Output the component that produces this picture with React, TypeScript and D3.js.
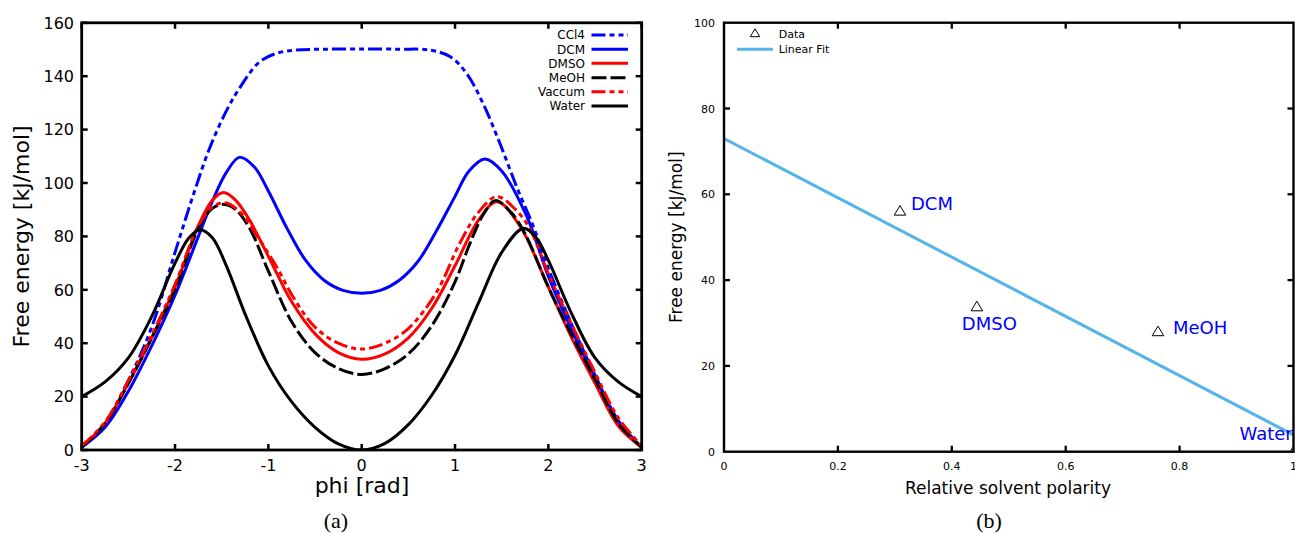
import React from "react";
import * as d3 from "d3";

type P = [number, number];

// ---------- Panel (a) data ----------
const seriesNames = ["CCl4", "DCM", "DMSO", "MeOH", "Vaccum", "Water"];

const ccl4: P[] = [[-3,1],[-2.75,10],[-2.5,26],[-2.25,46],[-2,74],[-1.8,96],[-1.63,113],[-1.45,127],[-1.3,136],[-1.1,145.2],[-0.91,148.6],[-0.7,149.8],[-0.4,150.1],[0,150.2],[0.4,150.1],[0.73,149.8],[0.95,147.3],[1.125,141],[1.3,129.8],[1.48,114.9],[1.66,98.6],[1.84,83.6],[2,68],[2.25,47],[2.5,28],[2.75,11],[3,1]];
const dcm: P[] = [[-3,1],[-2.75,8.5],[-2.5,22],[-2.25,39],[-2,58],[-1.75,80],[-1.59,94],[-1.45,104],[-1.31,109.6],[-1.15,106],[-1,97],[-0.8,83],[-0.6,71],[-0.4,63.5],[-0.2,59.8],[0,58.7],[0.2,59.8],[0.4,63.5],[0.6,70.5],[0.8,82],[1.0,95],[1.15,104.5],[1.32,109],[1.5,104.5],[1.77,87.4],[2,65],[2.25,45],[2.5,27],[2.75,10],[3,1]];
const dmso: P[] = [[-3,1.5],[-2.75,10],[-2.5,25],[-2.25,42],[-2,61],[-1.75,84],[-1.6,93.5],[-1.48,96.4],[-1.35,93.5],[-1.2,86],[-1.05,76],[-0.9,65.5],[-0.75,55.5],[-0.5,43.5],[-0.25,36.5],[0,34],[0.25,36],[0.5,42],[0.75,53],[1,69],[1.25,86],[1.45,93],[1.7,83.6],[2,61],[2.25,42],[2.5,25],[2.75,9],[3,1]];
const meoh: P[] = [[-3,1],[-2.75,10],[-2.5,25],[-2.25,42],[-2,60],[-1.75,83],[-1.6,90.5],[-1.48,92],[-1.35,90],[-1.2,83],[-1,67],[-0.75,48],[-0.5,36.5],[-0.25,30.5],[0,28.3],[0.25,30.5],[0.5,36],[0.75,46.5],[1,63],[1.16,77.4],[1.3,88],[1.43,93.4],[1.6,89],[1.75,81],[2,61],[2.25,43],[2.5,26.5],[2.75,10],[3,1]];
const vaccum: P[] = [[-3,1.5],[-2.75,10.5],[-2.5,26],[-2.25,43],[-2,62],[-1.75,84],[-1.6,91],[-1.46,92.6],[-1.3,89],[-1.1,79],[-0.91,68.5],[-0.73,57],[-0.5,46],[-0.25,40],[0,37.8],[0.25,40],[0.5,45.5],[0.8,59],[1.05,77.4],[1.25,89],[1.45,94.9],[1.65,90],[1.8,83],[2,66],[2.25,47],[2.5,29],[2.75,12],[3,1.5]];
const water: P[] = [[-3,20],[-2.75,25.5],[-2.5,34.5],[-2.25,50],[-2,70],[-1.85,79.5],[-1.73,82.5],[-1.6,79.5],[-1.45,69],[-1.25,51],[-1,31.5],[-0.75,18],[-0.5,8.5],[-0.25,2.3],[0,0],[0.25,2.5],[0.5,9.5],[0.75,20.5],[1,35.5],[1.25,55],[1.5,74],[1.73,83],[1.87,79.5],[2,71],[2.25,51],[2.5,34.5],[2.75,25.5],[3,20]];

const seriesData = [ccl4, dcm, dmso, meoh, vaccum, water];
const seriesColors = ["#0000ff", "#0000ff", "#ff0000", "#000000", "#ff0000", "#000000"];
const seriesDash = ["14,4,5,4,5,4", "", "", "15,4", "14,4,5,4,5,4", ""];

const phiTicks = [-3, -2, -1, 0, 1, 2, 3];
const energyTicksA = [0, 20, 40, 60, 80, 100, 120, 140, 160];

// ---------- Panel (b) data ----------
const solvents = ["DCM", "DMSO", "MeOH", "Water"];
const polarity = [0.309, 0.444, 0.762, 1.0];
const barrier = [56.1, 33.8, 28.0, 0.0];
const fitX = [0, 1];
const fitY = [73.0, 3.9];
const polarityTicks = [0, 0.2, 0.4, 0.6, 0.8, 1];
const polarityTickLabels = ["0", "0.2", "0.4", "0.6", "0.8", "1"];
const energyTicksB = [0, 20, 40, 60, 80, 100];

const FONT = "DejaVu Sans, Verdana, sans-serif";

export default function App() {
  const ax = d3.scaleLinear().domain([-3, 3]).range([81.7, 641.7]);
  const ay = d3.scaleLinear().domain([0, 160]).range([450, 22.8]);
  const bx = d3.scaleLinear().domain([0, 1]).range([724, 1293.5]);
  const by = d3.scaleLinear().domain([0, 100]).range([451.7, 22.7]);

  const line = d3
    .line<P>()
    .x((d) => ax(d[0]))
    .y((d) => ay(d[1]))
    .curve(d3.curveCatmullRom.alpha(0.5));

  const tickLen = 6;
  const legendRows = [35, 49.3, 63.3, 77.7, 91.7, 106];

  const tri = (cx: number, cy: number, s = 5.5) =>
    `M${cx},${cy - s}L${cx + s * 1.05},${cy + s * 0.75}L${cx - s * 1.05},${cy + s * 0.75}Z`;

  const labelOffsets: [number, number][] = [[11, -1], [-15, 23], [15, 2], [-54, -12]];

  const fitLine = d3
    .line<number>()
    .x((_, i) => bx(fitX[i]))
    .y((_, i) => by(fitY[i]));

  return (
    <svg
      width={1295}
      height={533}
      style={{ position: "absolute", left: 0, top: 0, background: "#fff" }}
      fontFamily={FONT}
    >
      <defs>
        <clipPath id="clipA">
          <rect x={ax(-3)} y={ay(160)} width={ax(3) - ax(-3)} height={ay(0) - ay(160)} />
        </clipPath>
        <clipPath id="clipB">
          <rect x={bx(0)} y={by(100)} width={bx(1) - bx(0)} height={by(0) - by(100)} />
        </clipPath>
      </defs>
      <rect x={0} y={0} width={1295} height={533} fill="#fff" />

      {/* ---------------- Panel (a) ---------------- */}
      <g clipPath="url(#clipA)">
        {seriesData.map((s, i) => (
          <path
            key={seriesNames[i]}
            d={line(s) || ""}
            fill="none"
            stroke={seriesColors[i]}
            strokeWidth={3}
            strokeDasharray={seriesDash[i] || undefined}
          />
        ))}
      </g>
      {phiTicks.map((t) => (
        <g key={"xt" + t}>
          <line x1={ax(t)} x2={ax(t)} y1={ay(0)} y2={ay(0) - tickLen} stroke="#000" strokeWidth={2.5} />
          <line x1={ax(t)} x2={ax(t)} y1={ay(160)} y2={ay(160) + tickLen} stroke="#000" strokeWidth={2.5} />
          <text x={ax(t)} y={471} fontSize={16} textAnchor="middle" fill="#000">
            {t}
          </text>
        </g>
      ))}
      {energyTicksA.map((t) => (
        <g key={"yt" + t}>
          <line x1={ax(-3)} x2={ax(-3) + tickLen} y1={ay(t)} y2={ay(t)} stroke="#000" strokeWidth={2.5} />
          <line x1={ax(3)} x2={ax(3) - tickLen} y1={ay(t)} y2={ay(t)} stroke="#000" strokeWidth={2.5} />
          <text x={74} y={ay(t) + 5.8} fontSize={16} textAnchor="end" fill="#000">
            {t}
          </text>
        </g>
      ))}
      <rect
        x={ax(-3)}
        y={ay(160)}
        width={ax(3) - ax(-3)}
        height={ay(0) - ay(160)}
        fill="none"
        stroke="#000"
        strokeWidth={2.8}
      />
      {seriesNames.map((n, i) => (
        <g key={"lg" + n}>
          <text x={585} y={legendRows[i] + 4.3} fontSize={12} textAnchor="end" fill="#000">
            {n}
          </text>
          <line
            x1={591.5}
            x2={628}
            y1={legendRows[i]}
            y2={legendRows[i]}
            stroke={seriesColors[i]}
            strokeWidth={3}
            strokeDasharray={seriesDash[i] || undefined}
          />
        </g>
      ))}
      <text x={362} y={493} fontSize={22} textAnchor="middle" fill="#000">
        phi [rad]
      </text>
      <text
        transform={`translate(29,${(ay(0) + ay(160)) / 2}) rotate(-90)`}
        fontSize={22}
        textAnchor="middle"
        fill="#000"
      >
        Free energy [kJ/mol]
      </text>
      <text x={336} y={528} fontSize={22} textAnchor="middle" fontFamily="Liberation Serif, Times New Roman, serif" fill="#000">
        (a)
      </text>

      {/* ---------------- Panel (b) ---------------- */}
      <g clipPath="url(#clipB)">
        <path d={fitLine(fitX) || ""} fill="none" stroke="#56b4e9" strokeWidth={3} />
        {solvents.map((s, i) => (
          <g key={"pt" + s}>
            <path d={tri(bx(polarity[i]), by(barrier[i]))} fill="none" stroke="#000" strokeWidth={1} />
            <text
              x={bx(polarity[i]) + labelOffsets[i][0]}
              y={by(barrier[i]) + labelOffsets[i][1]}
              fontSize={18}
              fill="#0000ff"
            >
              {s}
            </text>
          </g>
        ))}
      </g>
      {polarityTicks.map((t, i) => (
        <g key={"bxt" + t}>
          {i > 0 && i < polarityTicks.length - 1 && (
            <>
              <line x1={bx(t)} x2={bx(t)} y1={by(0)} y2={by(0) - tickLen} stroke="#000" strokeWidth={2.3} />
              <line x1={bx(t)} x2={bx(t)} y1={by(100)} y2={by(100) + tickLen} stroke="#000" strokeWidth={2.3} />
            </>
          )}
          <text x={bx(t)} y={470} fontSize={11} textAnchor="middle" fill="#000">
            {polarityTickLabels[i]}
          </text>
        </g>
      ))}
      {energyTicksB.map((t, i) => (
        <g key={"byt" + t}>
          {i > 0 && i < energyTicksB.length - 1 && (
            <>
              <line x1={bx(0)} x2={bx(0) + tickLen} y1={by(t)} y2={by(t)} stroke="#000" strokeWidth={2.3} />
              <line x1={bx(1)} x2={bx(1) - tickLen} y1={by(t)} y2={by(t)} stroke="#000" strokeWidth={2.3} />
            </>
          )}
          <text x={715} y={by(t) + 4} fontSize={11} textAnchor="end" fill="#000">
            {t}
          </text>
        </g>
      ))}
      <rect
        x={bx(0)}
        y={by(100)}
        width={bx(1) - bx(0)}
        height={by(0) - by(100)}
        fill="none"
        stroke="#000"
        strokeWidth={2.4}
      />
      <path d={tri(755, 33.3, 4.5)} fill="none" stroke="#000" strokeWidth={1} />
      <text x={778.7} y={38} fontSize={11} fill="#000">
        Data
      </text>
      <line x1={737} x2={773} y1={49.3} y2={49.3} stroke="#56b4e9" strokeWidth={3} />
      <text x={778.7} y={53} fontSize={11} fill="#000">
        Linear Fit
      </text>
      <text x={1008} y={494} fontSize={17} textAnchor="middle" fill="#000">
        Relative solvent polarity
      </text>
      <text
        transform={`translate(682,${(by(0) + by(100)) / 2}) rotate(-90)`}
        fontSize={17}
        textAnchor="middle"
        fill="#000"
      >
        Free energy [kJ/mol]
      </text>
      <text x={989} y={528} fontSize={22} textAnchor="middle" fontFamily="Liberation Serif, Times New Roman, serif" fill="#000">
        (b)
      </text>
    </svg>
  );
}
